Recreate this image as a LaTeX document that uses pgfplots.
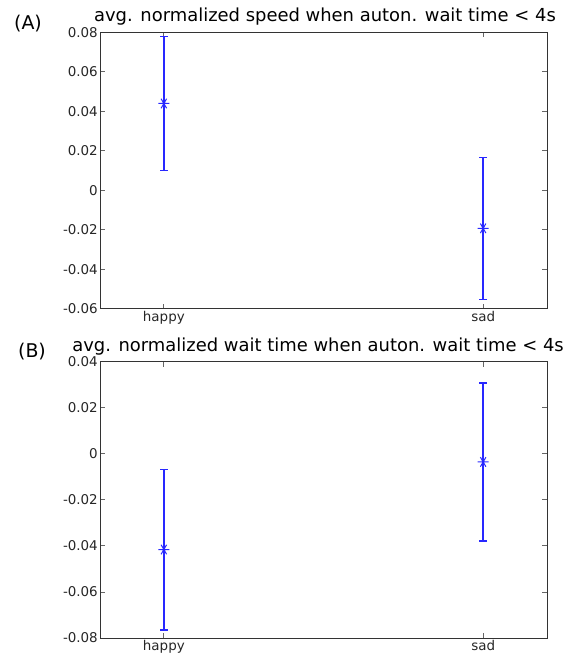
\documentclass[border=0pt]{standalone}
\usepackage{fontspec}
\setmainfont{DejaVu Sans}
\usepackage{pgfplots}
\pgfplotsset{compat=1.18}
\definecolor{mblue}{RGB}{40,40,255}

\pgfplotsset{
  panel/.style={
    scale only axis, width=447bp, height=276.5bp,
    xmin=0.8, xmax=2.2, xtick={1,2}, xticklabels={happy,sad},
    ytick distance=0.02,
    tick align=inside, major tick length=5bp,
    axis line style={black!80, line width=0.8bp},
    tick style={black!60, line width=0.8bp},
    ticklabel style={font=\fontsize{13.5}{15}\selectfont, text=black!85},
    scaled y ticks=false,
    yticklabel style={/pgf/number format/fixed, /pgf/number format/precision=2,
      /pgf/number format/assume math mode=true, inner sep=2bp},
    xticklabel style={inner sep=2bp},
  },
  % vertical range with end caps
  range/.style={draw=mblue, color=mblue, line width=1.5bp, mark=-, mark size=4bp,
    mark options={draw=mblue, line width=1.2bp}},
  mean/.style={only marks, color=mblue, mark=asterisk, mark size=5.5bp,
    mark options={rotate=90, line width=1bp}},
}

\begin{document}
\begin{tikzpicture}
\useasboundingbox (0bp,0bp) rectangle (575bp,655bp);

% (A) speed: low/high of the bar, then the means
\begin{axis}[panel, at={(100bp,346.3bp)}, anchor=south west, ymin=-0.06, ymax=0.08]
\addplot[range] coordinates {(1, 0.0101) (1, 0.0777)};
\addplot[range] coordinates {(2, -0.0553) (2, 0.0167)};
\addplot[mean] coordinates {(1, 0.0439) (2, -0.0193)};
\end{axis}

% (B) wait time
\begin{axis}[panel, at={(100bp,17bp)}, anchor=south west, ymin=-0.08, ymax=0.04]
\addplot[range] coordinates {(1, -0.0765) (1, -0.0067)};
\addplot[range] coordinates {(2, -0.0379) (2, 0.0307)};
\addplot[mean] coordinates {(1, -0.0416) (2, -0.0036)};
\end{axis}

\node[font=\fontsize{18}{20}\selectfont] at (325bp,638bp) {avg. normalized speed when auton. wait time < 4s};
\node[font=\fontsize{18}{20}\selectfont] at (318bp,308bp) {avg. normalized wait time when auton. wait time < 4s};
\node[font=\fontsize{19}{21}\selectfont] at (28bp,631bp) {(A)};
\node[font=\fontsize{19}{21}\selectfont] at (32bp,303bp) {(B)};
\end{tikzpicture}
\end{document}
